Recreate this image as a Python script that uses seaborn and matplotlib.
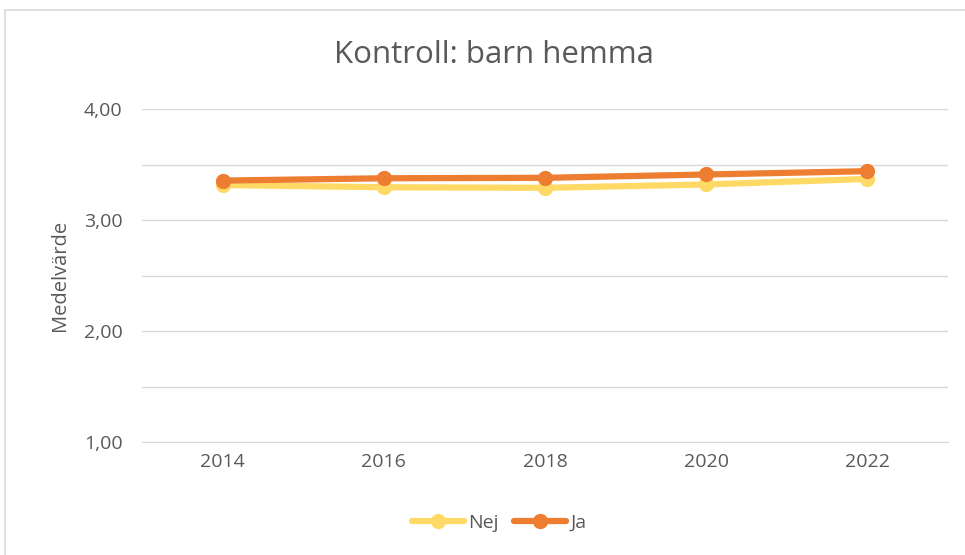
import matplotlib
matplotlib.use("Agg")
import matplotlib.pyplot as plt
import matplotlib.patches as patches
import seaborn as sns
import pandas as pd

# Data
years = ["2014", "2016", "2018", "2020", "2022"]
nej = [3.315, 3.295, 3.29, 3.32, 3.37]
ja = [3.355, 3.376, 3.38, 3.41, 3.44]
series_names = ["Nej", "Ja"]
colors = {"Nej": "#FFD966", "Ja": "#ED7D31"}
yticks = [1.0, 2.0, 3.0, 4.0]
ytick_labels = ["1,00", "2,00", "3,00", "4,00"]

df = pd.DataFrame({
    "pos": list(range(len(years))) * 2,
    "value": nej + ja,
    "serie": ["Nej"] * len(years) + ["Ja"] * len(years),
})

sns.set_style("white")
plt.rcParams["font.family"] = ["Open Sans", "DejaVu Sans"]
text_color = "#595959"
grid_color = "#D9D9D9"

fig = plt.figure(figsize=(9.65, 5.55), dpi=100)
ax = fig.add_axes([142 / 965, 1 - 442 / 555, (948 - 142) / 965, (442 - 109) / 555])

# chart frame border
fig.patches.append(patches.Rectangle((5 / 965, -0.1), 2, 1 - 10 / 555 + 0.1,
                                     transform=fig.transFigure, fill=False,
                                     edgecolor=grid_color, linewidth=1.2))

sns.lineplot(data=df, x="pos", y="value", hue="serie", hue_order=series_names,
             palette=colors, marker="o", markersize=11, markeredgewidth=0,
             linewidth=4.5, ax=ax, legend=False)

ax.set_xlim(-0.5, len(years) - 0.5)
ax.set_ylim(1.0, 4.0)
ax.set_xticks(range(len(years)))
ax.set_xticklabels(years)
ax.set_yticks([1.5, 2.5, 3.5], minor=True)
ax.set_yticks(yticks)
ax.set_yticklabels(ytick_labels)
ax.grid(axis="y", which="both", color=grid_color, linewidth=1)
ax.set_axisbelow(True)
for s in ["top", "right", "left"]:
    ax.spines[s].set_visible(False)
ax.spines["bottom"].set_color(grid_color)
ax.tick_params(axis="both", which="both", length=0, labelsize=14, colors=text_color, pad=8)
ax.tick_params(axis="y", pad=14)
ax.set_xlabel("")
ax.set_ylabel("Medelvärde", fontsize=14.5, color=text_color, labelpad=10)

fig.text(494 / 965, 1 - 55 / 555, "Kontroll: barn hemma", ha="center", va="center",
         fontsize=22.5, color=text_color)

handles = [plt.Line2D([0], [0], color=colors[n], linewidth=4.5, marker="o",
                      markersize=11, markeredgewidth=0) for n in series_names]
fig.legend(handles, series_names, loc="center", bbox_to_anchor=(499 / 965, 1 - 523 / 555),
           ncol=2, frameon=False, fontsize=14, labelcolor=text_color,
           handlelength=2.7, handletextpad=0.2, columnspacing=0.8)

fig.savefig("out.png", dpi=100)
